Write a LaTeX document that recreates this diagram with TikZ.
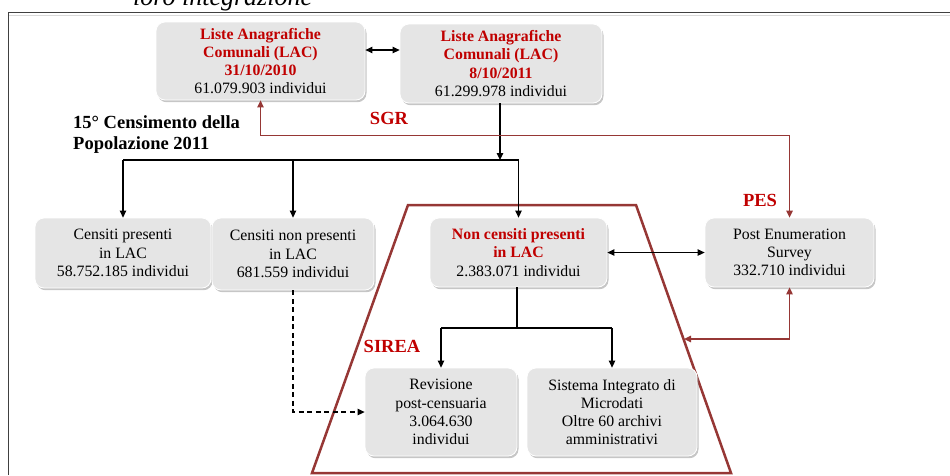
\documentclass[tikz,border=0pt]{standalone}
\usepackage{fontspec}
\setmainfont{Liberation Serif}
\usetikzlibrary{arrows.meta,shadows}
\definecolor{boxgray}{RGB}{229,229,229}
\definecolor{redtxt}{RGB}{192,0,0}
\definecolor{trapred}{RGB}{150,55,53}
\newcommand\redbf[1]{\textcolor{redtxt}{\bfseries #1}}
\begin{document}
\begin{tikzpicture}[x=1pt,y=-1pt,
  box/.style={rounded corners=9pt, fill=boxgray, draw=white, line width=0.8pt,
    align=center, inner sep=0pt, font=\fontsize{15.8}{18.2}\selectfont,
    drop shadow={shadow xshift=1.5pt, shadow yshift=-2.2pt, opacity=.45}},
  arr/.style={line width=1.2pt, black, -{Triangle[length=7pt,width=6.5pt]}},
  dbl/.style={line width=1.2pt, black, {Triangle[length=7pt,width=6.5pt]}-{Triangle[length=7pt,width=6.5pt]}},
  redarr/.style={line width=1.3pt, trapred, {Triangle[length=7pt,width=6.5pt]}-{Triangle[length=7pt,width=6.5pt]}},
  lbl/.style={text=redtxt, font=\bfseries\fontsize{18.5}{22}\selectfont, inner sep=0pt}]
\useasboundingbox (0,0) rectangle (950,475);
% frame
\draw[gray!30, line width=1pt] (9,15.5) -- (950,15.5);
\draw[black!75, line width=1pt] (8,475) -- (8,12) -- (950,12);
\node[anchor=base west, inner sep=0pt, font=\itshape\fontsize{26}{30}\selectfont] (ttl) at (133,5) {loro integrazione};
% trapezoid
\draw[trapred, line width=2.5pt, line join=miter] (408,205) -- (636,205) -- (731,473) -- (312,473) -- cycle;
% boxes
\node[box, minimum width=209pt, minimum height=78pt] (b1) at (260.5,61)
  {\redbf{Liste Anagrafiche}\\ \redbf{Comunali (LAC)}\\ \redbf{31/10/2010}\\ 61.079.903 individui};
\node[box, minimum width=202pt, minimum height=79pt] (b2) at (501,63.5)
  {\redbf{Liste Anagrafiche}\\ \redbf{Comunali (LAC)}\\ \redbf{8/10/2011}\\ 61.299.978 individui};
\node[box, minimum width=176pt, minimum height=70pt] (c1) at (123,253)
  {Censiti presenti\\ in LAC\\ 58.752.185 individui};
\node[box, minimum width=162pt, minimum height=72pt] (c2) at (293,254)
  {Censiti non presenti\\ in LAC\\ 681.559 individui};
\node[box, minimum width=177pt, minimum height=69pt] (nc) at (518.5,252.5)
  {\redbf{Non censiti presenti}\\ \redbf{in LAC}\\ 2.383.071 individui};
\node[box, minimum width=169pt, minimum height=69pt] (pes) at (789.5,252.5)
  {Post Enumeration\\ Survey\\ 332.710 individui};
\node[box, minimum width=152pt, minimum height=88pt] (rev) at (441,412)
  {Revisione\\ post-censuaria\\ 3.064.630\\ individui};
\node[box, minimum width=170pt, minimum height=88pt] (sis) at (612,412)
  {Sistema Integrato di\\ Microdati\\ Oltre 60 archivi\\ amministrativi};
% labels
\node[lbl] (sgr) at (389,118) {SGR};
\node[lbl] (peslbl) at (760,200) {PES};
\node[lbl] (sirea) at (392,346) {SIREA};
\node[anchor=north west, align=left, inner sep=0pt, font=\bfseries\fontsize{18.5}{21}\selectfont] (cens) at (73,115)
  {15° Censimento della\\ Popolazione 2011};
% connectors
\draw[dbl] (b1.east |- 0,50) -- (b2.west |- 0,50);
\coordinate (split) at (500,160);
\draw[arr] (b2.south -| split) -- (split);
\draw[line width=1.2pt] (c1.north |- split) -- (nc.north |- split);
\draw[arr] (c1.north |- split) -- (c1.north);
\draw[arr] (c2.north |- split) -- (c2.north);
\draw[arr] (nc.north |- split) -- (nc.north);
\coordinate (split2) at (517,328);
\draw[line width=1.2pt] (nc.south -| split2) -- (split2);
\draw[line width=1.2pt] (rev.north |- split2) -- (sis.north |- split2);
\draw[arr] (rev.north |- split2) -- (rev.north);
\draw[arr] (sis.north |- split2) -- (sis.north);
\draw[arr, dashed, dash pattern=on 5pt off 3.5pt] (c2.south) |- (rev.west);
\draw[redarr] (pes.north) -- ++(0,-82) -| (b1.south);
\coordinate (trapR) at (684,339);
\draw[redarr] (pes.south) |- (trapR);
\draw[dbl] (nc.east) -- (pes.west);
\end{tikzpicture}
\end{document}
